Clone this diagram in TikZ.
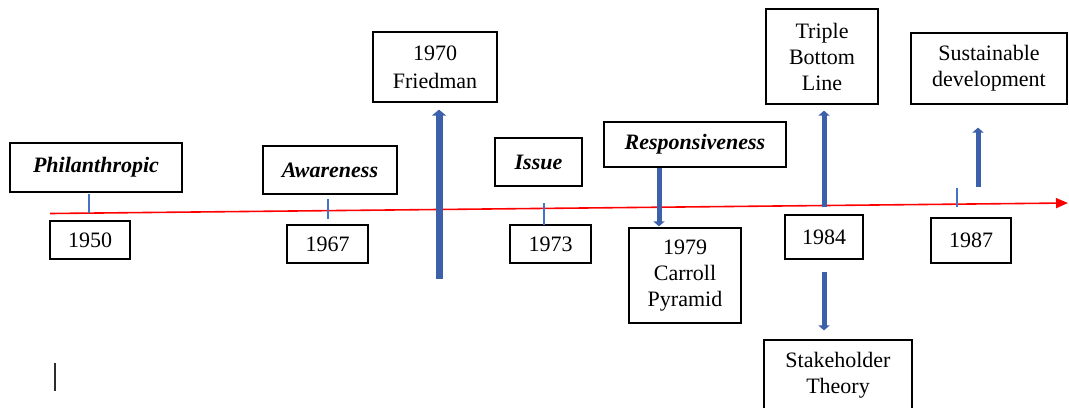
\documentclass[tikz,border=0pt]{standalone}
\usepackage{fontspec}
\setmainfont{Liberation Serif}
\usetikzlibrary{arrows.meta}
\definecolor{arrblue}{RGB}{60,96,170}
\definecolor{tickblue}{RGB}{68,114,196}
\definecolor{linered}{RGB}{255,0,0}
\definecolor{markgray}{RGB}{45,45,45}
\tikzset{
  box/.style={draw=black, line width=0.6pt, fill=white, inner sep=0pt, align=center,
    font=\fontsize{11pt}{13pt}\selectfont},
  era/.style={box, font=\fontsize{11pt}{13pt}\selectfont\bfseries\itshape},
  bigarrow/.style={draw=arrblue, line width=3.5pt, -{Triangle[length=3pt,width=7pt]}},
  midarrow/.style={draw=arrblue, line width=2.5pt, -{Triangle[length=2.5pt,width=5.5pt]}},
  tickline/.style={draw=tickblue, line width=0.6pt},
  timeline/.style={draw=linered, line width=0.8pt, -{Triangle[length=6pt,width=5pt]}}
}
\begin{document}
\begin{tikzpicture}[x=0.5pt,y=-0.5pt]
\useasboundingbox (0,0) rectangle (1069,407);
\clip (0,0) rectangle (1069,407);

% timeline
\coordinate (L0) at (50,213.5);
\coordinate (L1) at (1068,203);
\draw[timeline] (L0) -- (L1);

% boxes
\node[era, minimum width=86pt, minimum height=24.5pt] (phil) at (96,167.5) {Philanthropic};
\node[box, minimum width=40pt, minimum height=19pt] (y1950) at (90,240) {1950};
\node[era, minimum width=67pt, minimum height=24pt] (aware) at (330,170) {Awareness};
\node[box, minimum width=40.5pt, minimum height=19pt] (y1967) at (327.5,244) {1967};
\node[box, minimum width=62pt, minimum height=35pt, font=\fontsize{11pt}{14pt}\selectfont] (fried) at (435,67) {1970\\Friedman};
\node[era, minimum width=43.5pt, minimum height=24pt] (issue) at (538.5,162) {Issue};
\node[box, minimum width=40.5pt, minimum height=19pt] (y1973) at (550.5,244) {1973};
\node[era, minimum width=91pt, minimum height=22.5pt] (resp) at (695,144.5) {Responsiveness};
\node[box, minimum width=56pt, minimum height=47.5pt] (carroll) at (685,275.5) {1979\\Carroll\\Pyramid};
\node[box, minimum width=56pt, minimum height=47.5pt] (tbl) at (822,56.5) {Triple\\Bottom\\Line};
\node[box, minimum width=39pt, minimum height=22pt] (y1984) at (824,237) {1984};
\node[box, minimum width=74pt, minimum height=35pt] (stake) at (838,375) {Stakeholder\\Theory};
\node[box, minimum width=78pt, minimum height=35.5pt] (sust) at (989,68.5) {Sustainable\\development};
\node[box, minimum width=40pt, minimum height=22.5pt] (y1987) at (971,240.5) {1987};

% ticks
\coordinate (t1a) at (89,194); \coordinate (t1b) at (89,213);
\draw[tickline] (t1a) -- (t1b);
\coordinate (t2a) at (328,199); \coordinate (t2b) at (328,219);
\draw[tickline] (t2a) -- (t2b);
\coordinate (t3a) at (544,203); \coordinate (t3b) at (544,225);
\draw[tickline] (t3a) -- (t3b);
\coordinate (t4a) at (957,188); \coordinate (t4b) at (957,207);
\draw[tickline] (t4a) -- (t4b);

% arrows
\coordinate (fa) at (439,279);
\draw[bigarrow] (fa) -- ([yshift=-3.5pt]fa |- fried.south);
\draw[midarrow] (resp.south -| 659,0) -- ([yshift=0.5pt]carroll.north -| 659,0);
\draw[midarrow] ([yshift=3.5pt]y1984.north) -- ([yshift=-3pt]y1984.north |- tbl.south);
\draw[midarrow] ([yshift=-6pt]y1984.south) -- ([yshift=4.5pt]y1984.south |- stake.north);
\coordinate (sa) at (978,187);
\draw[midarrow] (sa) -- ([yshift=-11.5pt]sa |- sust.south);

% stray mark
\coordinate (m0) at (55,363); \coordinate (m1) at (55,391);
\draw[draw=markgray, line width=1pt] (m0) -- (m1);
\end{tikzpicture}
\end{document}
